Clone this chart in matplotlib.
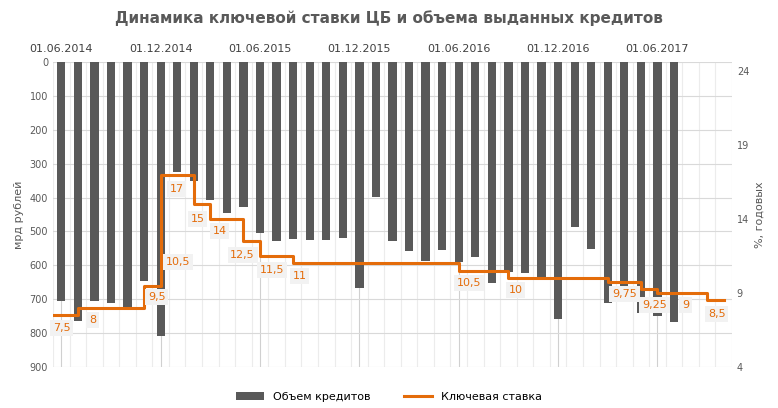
import matplotlib
matplotlib.use("Agg")
import matplotlib.pyplot as plt
import numpy as np

credits = [704, 764, 704, 710, 722, 645, 808, 325, 350, 407, 447, 427, 506, 527, 521, 524,
           524, 518, 666, 398, 527, 557, 586, 554, 589, 574, 651, 619, 622, 634, 759, 486,
           551, 710, 700, 741, 749, 768]
rate = [7.5, 8, 8, 8, 8, 9.5, 17, 17, 15, 14, 14, 12.5, 11.5, 11.5] + [11]*10 + [10.5]*3 + \
       [10]*6 + [9.75]*2 + [9.25] + [9]*3 + [8.5]
date_labels = ["01.06.2014", "01.12.2014", "01.06.2015", "01.12.2015",
               "01.06.2016", "01.12.2016", "01.06.2017"]
rate_labels = ["7,5", "8", "9,5", "10,5", "17", "15", "14", "12,5", "11,5", "11",
               "10,5", "10", "9,75", "9,25", "9", "8,5"]
label_px = [(62, 328), (93, 320), (157, 297), (178, 262), (177, 189), (198, 219), (220, 231),
            (243, 255), (272, 270), (300, 276), (469, 283), (516, 290), (625, 294),
            (655, 305), (686, 305), (717, 314)]

ORANGE = "#e46c0a"
GRAY = "#595959"
fig = plt.figure(figsize=(7.78, 4.08), dpi=100)
ax = fig.add_axes([53/778, 1-367/408, (732-53)/778, (367-62)/408])
x = np.arange(len(credits))
ax.bar(x, credits, width=0.5, color=GRAY, zorder=2, label="Объем кредитов")
ax.set_ylim(900, 0)
ax.set_xlim(-0.5, 40.5)
ax.set_yticks(range(0, 901, 100))
ax.xaxis.tick_top()
ax.set_xticks(range(0, 37, 6))
ax.set_xticklabels(date_labels, fontsize=8, color="#404040")
ax.set_xticks(np.arange(-0.5, 40.6, 1), minor=True)
ax.tick_params(axis="x", which="both", length=0, pad=6)
ax.tick_params(axis="y", length=0, labelsize=7, colors="#595959")
ax.grid(axis="x", which="minor", color="#ececec", lw=0.8, zorder=0)
ax.grid(axis="x", which="major", color="#d0d0d0", lw=0.8, zorder=0)
ax.grid(axis="y", color="#d9d9d9", lw=0.8, zorder=0)
for s in ax.spines.values():
    s.set_visible(False)
ax.set_ylabel("мрд рублей", fontsize=8, color="#595959")

ax2 = ax.twinx()
ax2.set_ylim(4, 4 + 305/14.8)
ax2.set_yticks([4, 9, 14, 19, 24])
ax2.tick_params(axis="y", length=0, labelsize=7, colors="#595959")
for s in ax2.spines.values():
    s.set_visible(False)
xs = [-0.5] + list(range(len(rate))) + [len(rate)]
ys = [rate[0]] + rate + [rate[-1]]
ax2.step(xs, ys, where="post", color=ORANGE, lw=2.2, zorder=3, label="Ключевая ставка")
ax2.set_ylabel("%, годовых", fontsize=8, color="#595959")
for t, (px, py) in zip(rate_labels, label_px):
    dx = (px - 61.7) / 16.56
    dy = 4 + (367 - py) / 14.8
    ax2.text(dx, dy, t, color=ORANGE, fontsize=8, ha="center", va="center", zorder=4,
             bbox=dict(facecolor="#f2f2f2", edgecolor="none", pad=2))

fig.suptitle("Динамика ключевой ставки ЦБ и объема выданных кредитов", y=0.975,
             fontsize=11, fontweight="bold", color="#595959")
h1, l1 = ax.get_legend_handles_labels()
h2, l2 = ax2.get_legend_handles_labels()
fig.legend(h1 + h2, l1 + l2, loc="lower center", ncol=2, frameon=False, fontsize=8,
           bbox_to_anchor=(0.5, -0.01), handlelength=2.5, columnspacing=3)
fig.savefig("out.png", dpi=100)
